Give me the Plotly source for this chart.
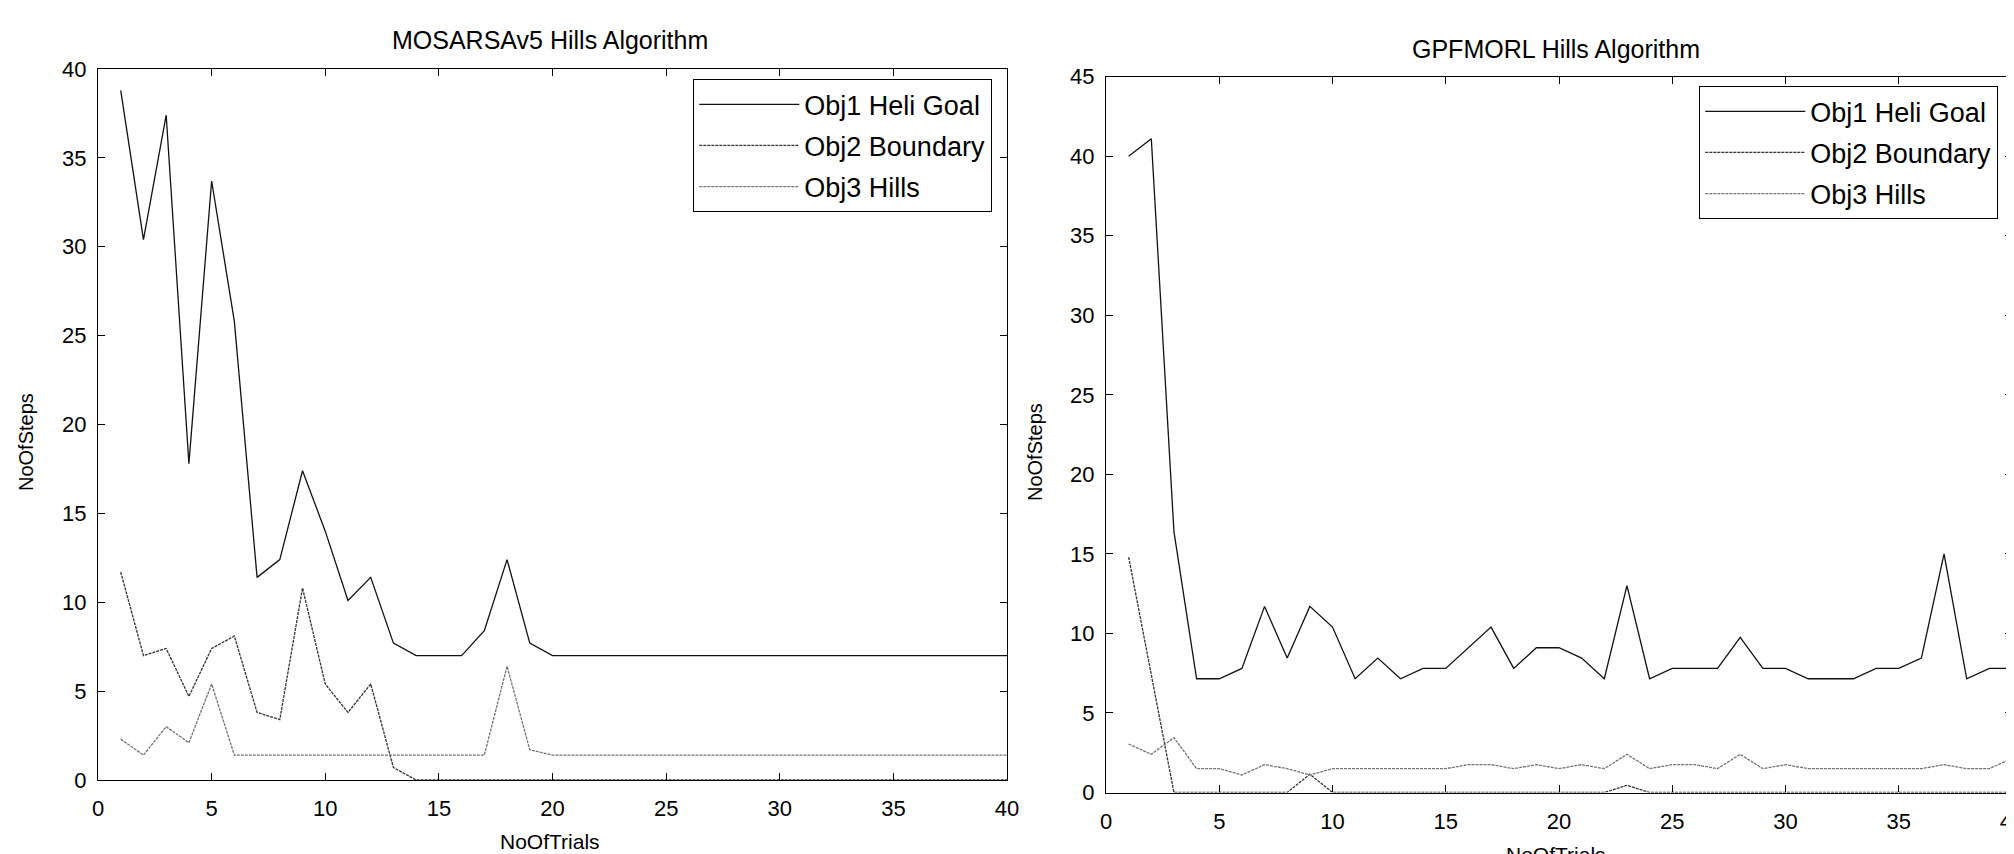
import plotly.graph_objects as go

trials = [1, 2, 3, 4, 5, 6, 7, 8, 9, 10, 11, 12, 13, 14, 15, 16, 17, 18, 19, 20,
          21, 22, 23, 24, 25, 26, 27, 28, 29, 30, 31, 32, 33, 34, 35, 36, 37, 38, 39, 40]

# MOSARSAv5 Hills Algorithm
mos_obj1 = [38.8, 30.4, 37.4, 17.8, 33.7, 25.8, 11.4, 12.4, 17.4, 14.0,
            10.1, 11.4, 7.7, 7.0, 7.0, 7.0, 8.4, 12.4, 7.7, 7.0,
            7.0, 7.0, 7.0, 7.0, 7.0, 7.0, 7.0, 7.0, 7.0, 7.0,
            7.0, 7.0, 7.0, 7.0, 7.0, 7.0, 7.0, 7.0, 7.0, 7.0]
mos_obj2 = [11.7, 7.0, 7.4, 4.7, 7.4, 8.1, 3.8, 3.4, 10.8, 5.4,
            3.8, 5.4, 0.7, 0.0, 0.0, 0.0, 0.0, 0.0, 0.0, 0.0,
            0.0, 0.0, 0.0, 0.0, 0.0, 0.0, 0.0, 0.0, 0.0, 0.0,
            0.0, 0.0, 0.0, 0.0, 0.0, 0.0, 0.0, 0.0, 0.0, 0.0]
mos_obj3 = [2.3, 1.4, 3.0, 2.1, 5.4, 1.4, 1.4, 1.4, 1.4, 1.4,
            1.4, 1.4, 1.4, 1.4, 1.4, 1.4, 1.4, 6.4, 1.7, 1.4,
            1.4, 1.4, 1.4, 1.4, 1.4, 1.4, 1.4, 1.4, 1.4, 1.4,
            1.4, 1.4, 1.4, 1.4, 1.4, 1.4, 1.4, 1.4, 1.4, 1.4]

# GPFMORL Hills Algorithm
gpf_obj1 = [40.0, 41.1, 16.4, 7.15, 7.15, 7.8, 11.7, 8.45, 11.7, 10.4,
            7.15, 8.45, 7.15, 7.8, 7.8, 9.1, 10.4, 7.8, 9.1, 9.1,
            8.45, 7.15, 13.0, 7.15, 7.8, 7.8, 7.8, 9.75, 7.8, 7.8,
            7.15, 7.15, 7.15, 7.8, 7.8, 8.45, 15.0, 7.15, 7.8, 7.8]
gpf_obj2 = [14.8, 7.4, 0.0, 0.0, 0.0, 0.0, 0.0, 0.0, 1.15, 0.0,
            0.0, 0.0, 0.0, 0.0, 0.0, 0.0, 0.0, 0.0, 0.0, 0.0,
            0.0, 0.0, 0.45, 0.0, 0.0, 0.0, 0.0, 0.0, 0.0, 0.0,
            0.0, 0.0, 0.0, 0.0, 0.0, 0.0, 0.0, 0.0, 0.0, 0.0]
gpf_obj3 = [3.05, 2.4, 3.45, 1.5, 1.5, 1.1, 1.75, 1.5, 1.1, 1.5,
            1.5, 1.5, 1.5, 1.5, 1.5, 1.75, 1.75, 1.5, 1.75, 1.5,
            1.75, 1.5, 2.4, 1.5, 1.75, 1.75, 1.5, 2.4, 1.5, 1.75,
            1.5, 1.5, 1.5, 1.5, 1.5, 1.5, 1.75, 1.5, 1.5, 2.15]

series_names = ["Obj1 Heli Goal", "Obj2 Boundary", "Obj3 Hills"]
titles = ["MOSARSAv5 Hills Algorithm", "GPFMORL Hills Algorithm"]
x_title = "NoOfTrials"
y_title = "NoOfSteps"

FONT = "Liberation Sans, Arial, sans-serif"
styles = [dict(color="#111111", width=1.3, dash="solid"),
          dict(color="#333333", width=1.3, dash="3px,1px"),
          dict(color="#747474", width=1.3, dash="3px,1px")]

fig = go.Figure()
for vals, name, st in zip([mos_obj1, mos_obj2, mos_obj3], series_names, styles):
    fig.add_trace(go.Scatter(x=trials, y=vals, mode="lines", name=name, line=st,
                             xaxis="x", yaxis="y", legend="legend",
                             legendgroup="L" + name))
for vals, name, st in zip([gpf_obj1, gpf_obj2, gpf_obj3], series_names, styles):
    fig.add_trace(go.Scatter(x=trials, y=vals, mode="lines", name=name, line=st,
                             xaxis="x2", yaxis="y2", legend="legend2",
                             legendgroup="R" + name))

axis_common = dict(showgrid=False, zeroline=False, showline=True, linecolor="black",
                   linewidth=1.3, mirror="ticks", ticks="inside", ticklen=7,
                   tickcolor="black", tickwidth=1.3, dtick=5, automargin=False,
                   ticklabeloverflow="allow",
                   tickfont=dict(family=FONT, size=22, color="black"))

W, H = 2014, 854
OFF = 8  # page offset of the plot div (body margin) in the screenshot

def px(xs):
    return (xs - OFF) / W

def py(ys):
    return 1 - (ys - OFF) / H

legend_common = dict(bordercolor="black", borderwidth=1.3, bgcolor="white",
                     font=dict(family=FONT, size=27, color="black"),
                     xanchor="left", yanchor="top", tracegroupgap=3,
                     itemwidth=100, orientation="v")

fig.update_layout(
    width=W, height=H, margin=dict(l=0, r=0, t=0, b=0, pad=0),
    paper_bgcolor="white", plot_bgcolor="white",
    xaxis=dict(domain=[px(98), px(1007)], range=[0, 40], anchor="y",
               ticklabelstandoff=8, **axis_common),
    yaxis=dict(domain=[py(780), py(69)], range=[0, 40], anchor="x",
               ticklabelstandoff=6, **axis_common),
    xaxis2=dict(domain=[px(1106), px(2012)], range=[0, 40], anchor="y2",
                ticklabelstandoff=9, **axis_common),
    yaxis2=dict(domain=[py(792.5), py(76.7)], range=[0, 45], anchor="x2",
                ticklabelstandoff=6, **axis_common),
    legend=dict(x=px(693), y=py(79), **legend_common),
    legend2=dict(x=px(1699), y=py(86), **legend_common),
    showlegend=True,
)

ann = []
ann.append(dict(text=titles[0], x=px(550), y=py(40), font=dict(family=FONT, size=25, color="black")))
ann.append(dict(text=titles[1], x=px(1556), y=py(49), font=dict(family=FONT, size=25, color="black")))
ann.append(dict(text=x_title, x=px(550), y=py(841), font=dict(family=FONT, size=21, color="black")))
ann.append(dict(text=x_title, x=px(1556), y=py(854), font=dict(family=FONT, size=21, color="black")))
ann.append(dict(text=y_title, x=px(26), y=py(442), textangle=-90, font=dict(family=FONT, size=20, color="black")))
ann.append(dict(text=y_title, x=px(1035), y=py(452), textangle=-90, font=dict(family=FONT, size=20, color="black")))
for a in ann:
    a.update(xref="paper", yref="paper", showarrow=False, xanchor="center", yanchor="middle")
fig.update_layout(annotations=ann)

fig.write_html("out.html")
